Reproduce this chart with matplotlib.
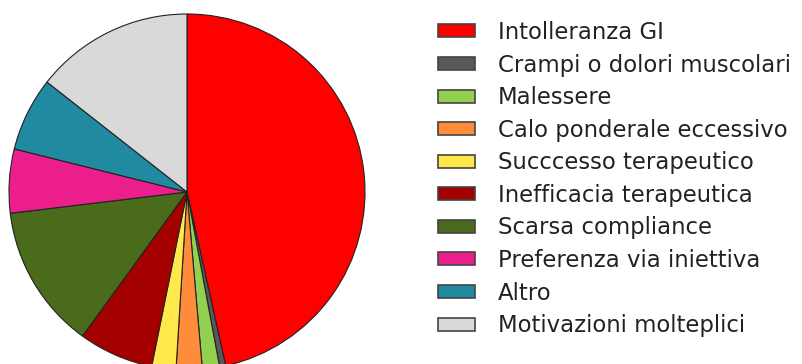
import matplotlib.pyplot as plt

# Reasons for discontinuation (percent of patients)
labels = [
    "Intolleranza GI",
    "Crampi o dolori muscolari",
    "Malessere",
    "Calo ponderale eccessivo",
    "Succcesso terapeutico",
    "Inefficacia terapeutica",
    "Scarsa compliance",
    "Preferenza via iniettiva",
    "Altro",
    "Motivazioni molteplici",
]
values = [46.5, 0.55, 1.56, 2.36, 2.2, 6.8, 13.1, 5.8, 6.7, 14.4]
colors = [
    "#ff0000", "#595959", "#92d050", "#ff8c3a", "#ffe94a",
    "#a50000", "#4a6b1c", "#ec1e8c", "#1f8aa0", "#d9d9d9",
]

W, H = 802, 364
fig = plt.figure(figsize=(W / 100, H / 100), dpi=100)
ax = fig.add_axes([0, 0, 1, 1])

wedges, _ = ax.pie(
    values,
    colors=colors,
    startangle=90,
    counterclock=False,
    center=(187, H - 192),
    radius=178,
    frame=True,
    wedgeprops=dict(edgecolor="#222222", linewidth=0.8),
)
ax.set_xlim(0, W)
ax.set_ylim(0, H)
ax.axis("off")

leg = ax.legend(
    wedges,
    labels,
    loc="upper left",
    bbox_to_anchor=(438 / W, 1 - 21 / H),
    frameon=False,
    fontsize=16.4,
    handlelength=1.62,
    handleheight=0.5,
    handletextpad=1.0,
    labelspacing=0.42,
    borderaxespad=0,
    borderpad=0,
)
for t in leg.get_texts():
    t.set_color("#222222")
for h in leg.legend_handles:
    h.set_edgecolor("#444444")
    h.set_linewidth(1.2)

fig.savefig("out.png", dpi=100)
